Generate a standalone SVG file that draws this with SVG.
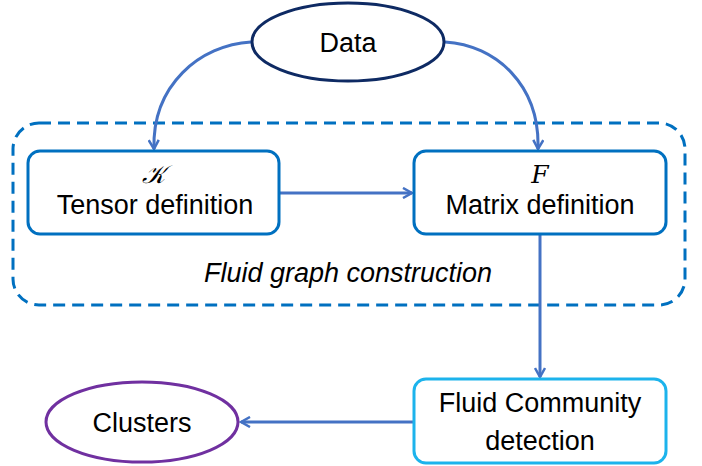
<svg xmlns="http://www.w3.org/2000/svg" width="702" height="466" viewBox="0 0 702 466">
<defs>
<style>
.t{font-family:"Liberation Sans",Arial,sans-serif;font-size:27px;fill:#000;text-anchor:middle}
.m{font-family:"DejaVu Serif","Liberation Serif",serif;font-style:italic;font-size:25px;fill:#000;text-anchor:middle}
.c{fill:none;stroke:#4472c4;stroke-width:3;marker-end:url(#ah)}
.box{fill:#fff;stroke:#0070c0;stroke-width:3}
</style>
<marker id="ah" viewBox="0 0 12 12" refX="10" refY="6" markerWidth="12" markerHeight="12" markerUnits="userSpaceOnUse" orient="auto">
<polyline points="1,1 10,6 1,11" fill="none" stroke="#4472c4" stroke-width="2.5"/>
</marker>
</defs>
<rect width="702" height="466" fill="#fff"/>
<g id="group-fluid-graph">
<rect x="13" y="123" width="672" height="182" rx="26" fill="none" stroke="#0070c0" stroke-width="3" stroke-dasharray="12,7"/>
<text class="t" x="348" y="282" font-style="italic">Fluid graph construction</text>
</g>
<g id="connectors">
<path class="c" d="M251,42 C200,45 152,85 154,149"/>
<path class="c" d="M445,42 C496,45 540,85 538,149"/>
<path class="c" d="M279,193 L412,193"/>
<path class="c" d="M540,234 L540,377"/>
<path class="c" d="M414,422 L241,422"/>
</g>
<g id="node-data">
<ellipse cx="348" cy="42" rx="96" ry="39" fill="#fff" stroke="#0e2a63" stroke-width="3"/>
<text class="t" x="348" y="52">Data</text>
</g>
<g id="node-tensor">
<rect class="box" x="28" y="151" width="251" height="83" rx="12"/>
<text class="m" x="153" y="183">𝒦</text>
<text class="t" x="155" y="214">Tensor definition</text>
</g>
<g id="node-matrix">
<rect class="box" x="414" y="151" width="252" height="83" rx="12"/>
<text class="m" x="540" y="183">F</text>
<text class="t" x="540" y="214">Matrix definition</text>
</g>
<g id="node-fluid">
<rect x="414" y="379" width="252" height="84" rx="12" fill="#fff" stroke="#1cb3ec" stroke-width="3"/>
<text class="t" x="540" y="412">Fluid Community</text>
<text class="t" x="540" y="450">detection</text>
</g>
<g id="node-clusters">
<ellipse cx="142" cy="422" rx="96" ry="40" fill="#fff" stroke="#7030a0" stroke-width="3"/>
<text class="t" x="142" y="432">Clusters</text>
</g>
</svg>
